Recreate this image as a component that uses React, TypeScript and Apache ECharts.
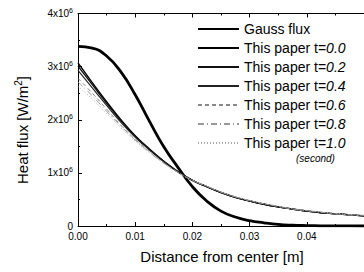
import React, { useEffect, useRef } from "react";
import * as echarts from "echarts";

const distances = [0, 0.0025, 0.005, 0.0075, 0.01, 0.0125, 0.015, 0.0175, 0.02, 0.0225, 0.025, 0.0275, 0.03, 0.0325, 0.035, 0.0375, 0.04, 0.0425, 0.045, 0.0475, 0.05];
// values in 1e6 W/m^2
const gaussFlux = [3.38, 3.35, 3.2, 2.9, 2.47, 1.97, 1.49, 1.1, 0.74, 0.47, 0.28, 0.17, 0.1, 0.06, 0.03, 0.015, 0.008, 0.004, 0.002, 0.001, 0];
const paperT00 = [3.07, 2.7, 2.34, 2.0, 1.7, 1.45, 1.22, 1.02, 0.86, 0.74, 0.63, 0.54, 0.47, 0.41, 0.36, 0.32, 0.28, 0.25, 0.23, 0.21, 0.19];
const paperT02 = [3.01, 2.66, 2.31, 1.98, 1.69, 1.44, 1.22, 1.02, 0.86, 0.74, 0.63, 0.54, 0.47, 0.41, 0.36, 0.32, 0.28, 0.25, 0.23, 0.21, 0.19];
const paperT04 = [2.93, 2.6, 2.27, 1.95, 1.67, 1.43, 1.21, 1.02, 0.86, 0.74, 0.63, 0.54, 0.47, 0.41, 0.36, 0.32, 0.28, 0.25, 0.23, 0.21, 0.19];
const paperT06 = [2.78, 2.5, 2.2, 1.9, 1.63, 1.4, 1.19, 1.01, 0.86, 0.75, 0.64, 0.55, 0.48, 0.42, 0.37, 0.32, 0.29, 0.26, 0.23, 0.21, 0.2];
const paperT08 = [2.71, 2.45, 2.16, 1.88, 1.62, 1.39, 1.18, 1.01, 0.86, 0.75, 0.64, 0.55, 0.48, 0.42, 0.37, 0.32, 0.29, 0.26, 0.23, 0.21, 0.2];
const paperT10 = [2.63, 2.39, 2.12, 1.85, 1.6, 1.38, 1.18, 1.0, 0.86, 0.75, 0.64, 0.55, 0.48, 0.42, 0.37, 0.33, 0.29, 0.26, 0.24, 0.22, 0.2];

const xTicks = [0, 0.01, 0.02, 0.03, 0.04, 0.05];
const yTicks = [0, 1, 2, 3, 4];

const FONT = "'Liberation Sans', Arial, Helvetica, sans-serif";

function pairs(vals: number[]) {
  return distances.map((d, i) => [d, vals[i] * 1e6]);
}

export default function App() {
  const ref = useRef<HTMLDivElement>(null);
  useEffect(() => {
    if (!ref.current) return;
    const chart = echarts.init(ref.current, undefined, { renderer: "svg" });
    const mk = (name: string, vals: number[], color: string, width: number, type: any) => ({
      name,
      type: "line",
      data: pairs(vals),
      smooth: true,
      showSymbol: false,
      symbol: "none",
      lineStyle: { color, width, type },
      itemStyle: { color },
    });
    const axisCommon = {
      axisLine: { show: true, onZero: false, lineStyle: { color: "#000", width: 1 } },
      axisTick: { show: true, inside: true, length: 4, lineStyle: { color: "#000" } },
      minorTick: { show: true, splitNumber: 2, length: 2, lineStyle: { color: "#000" } },
      splitLine: { show: false },
      minorSplitLine: { show: false },
    };
    chart.setOption({
      animation: false,
      backgroundColor: "#fff",
      grid: { left: 78, top: 13.5, right: -16, bottom: 46 },
      xAxis: [
        {
          type: "value",
          min: xTicks[0],
          max: xTicks[xTicks.length - 1],
          interval: 0.01,
          ...axisCommon,
          axisLabel: {
            show: true,
            showMaxLabel: false,
            margin: 5,
            color: "#000",
            fontFamily: FONT,
            fontSize: 10,
            formatter: (v: number) => v.toFixed(2),
          },
        },
        {
          type: "value",
          position: "top",
          min: xTicks[0],
          max: xTicks[xTicks.length - 1],
          interval: 0.01,
          ...axisCommon,
          axisLabel: { show: false },
        },
      ],
      yAxis: {
        type: "value",
        min: yTicks[0] * 1e6,
        max: yTicks[yTicks.length - 1] * 1e6,
        interval: 1e6,
        ...axisCommon,
        axisLabel: {
          show: true,
          margin: 5,
          color: "#000",
          fontFamily: FONT,
          fontSize: 10,
          formatter: (v: number) => (v === 0 ? "0" : `{a|${v / 1e6}x10}{s|6}`),
          rich: {
            a: { fontFamily: FONT, fontSize: 10, color: "#000" },
            s: { fontFamily: FONT, fontSize: 7, color: "#000", verticalAlign: "top", padding: [0, 0, 6, 0] },
          },
        },
      },
      legend: {
        orient: "vertical",
        left: 197,
        top: 22,
        padding: 0,
        itemWidth: 41,
        itemHeight: 14,
        itemGap: 5,
        itemStyle: { opacity: 0 },
        textStyle: {
          color: "#000",
          fontFamily: FONT,
          fontSize: 14,
          rich: {
            i: { fontFamily: FONT, fontSize: 14, fontStyle: "italic", color: "#000" },
            n: { fontFamily: FONT, fontSize: 14, color: "#000" },
          },
        },
        formatter: (name: string) => {
          const k = name.indexOf("=");
          if (k < 0) return `{n|${name}}`;
          return `{n|${name.slice(0, k + 1)}}{i|${name.slice(k + 1)}}`;
        },
      },
      graphic: [
        {
          type: "text",
          x: 296,
          y: 158,
          style: {
            text: "(second)",
            fontFamily: FONT,
            fontSize: 10,
            fontStyle: "italic",
            fill: "#000",
            textVerticalAlign: "middle",
          },
        },
        {
          type: "text",
          x: 222,
          y: 256,
          style: {
            text: "Distance from center [m]",
            fontFamily: FONT,
            fontSize: 15,
            fill: "#000",
            textAlign: "center",
            textVerticalAlign: "middle",
          },
        },
        {
          type: "text",
          x: 22,
          y: 130,
          rotation: Math.PI / 2,
          style: {
            text: "{a|Heat flux [W/m}{s|2}{a|]}",
            rich: {
              a: { fontFamily: FONT, fontSize: 15, fill: "#000" },
              s: { fontFamily: FONT, fontSize: 10, fill: "#000", verticalAlign: "top", padding: [0, 0, 8, 0] },
            },
            textAlign: "center",
            textVerticalAlign: "middle",
          },
        },
      ],
      series: [
        mk("Gauss flux", gaussFlux, "#000", 2.8, "solid"),
        mk("This paper t=0.0", paperT00, "#000", 1.4, "solid"),
        mk("This paper t=0.2", paperT02, "#111", 1.4, "solid"),
        mk("This paper t=0.4", paperT04, "#222", 1.1, "solid"),
        mk("This paper t=0.6", paperT06, "#888", 1, [4, 3]),
        mk("This paper t=0.8", paperT08, "#999", 1, [6, 3, 1, 3]),
        mk("This paper t=1.0", paperT10, "#aaa", 1, [1, 2]),
      ],
    });
    return () => chart.dispose();
  }, []);
  return <div ref={ref} style={{ position: "fixed", left: 0, top: 0, width: 364, height: 272 }} />;
}
